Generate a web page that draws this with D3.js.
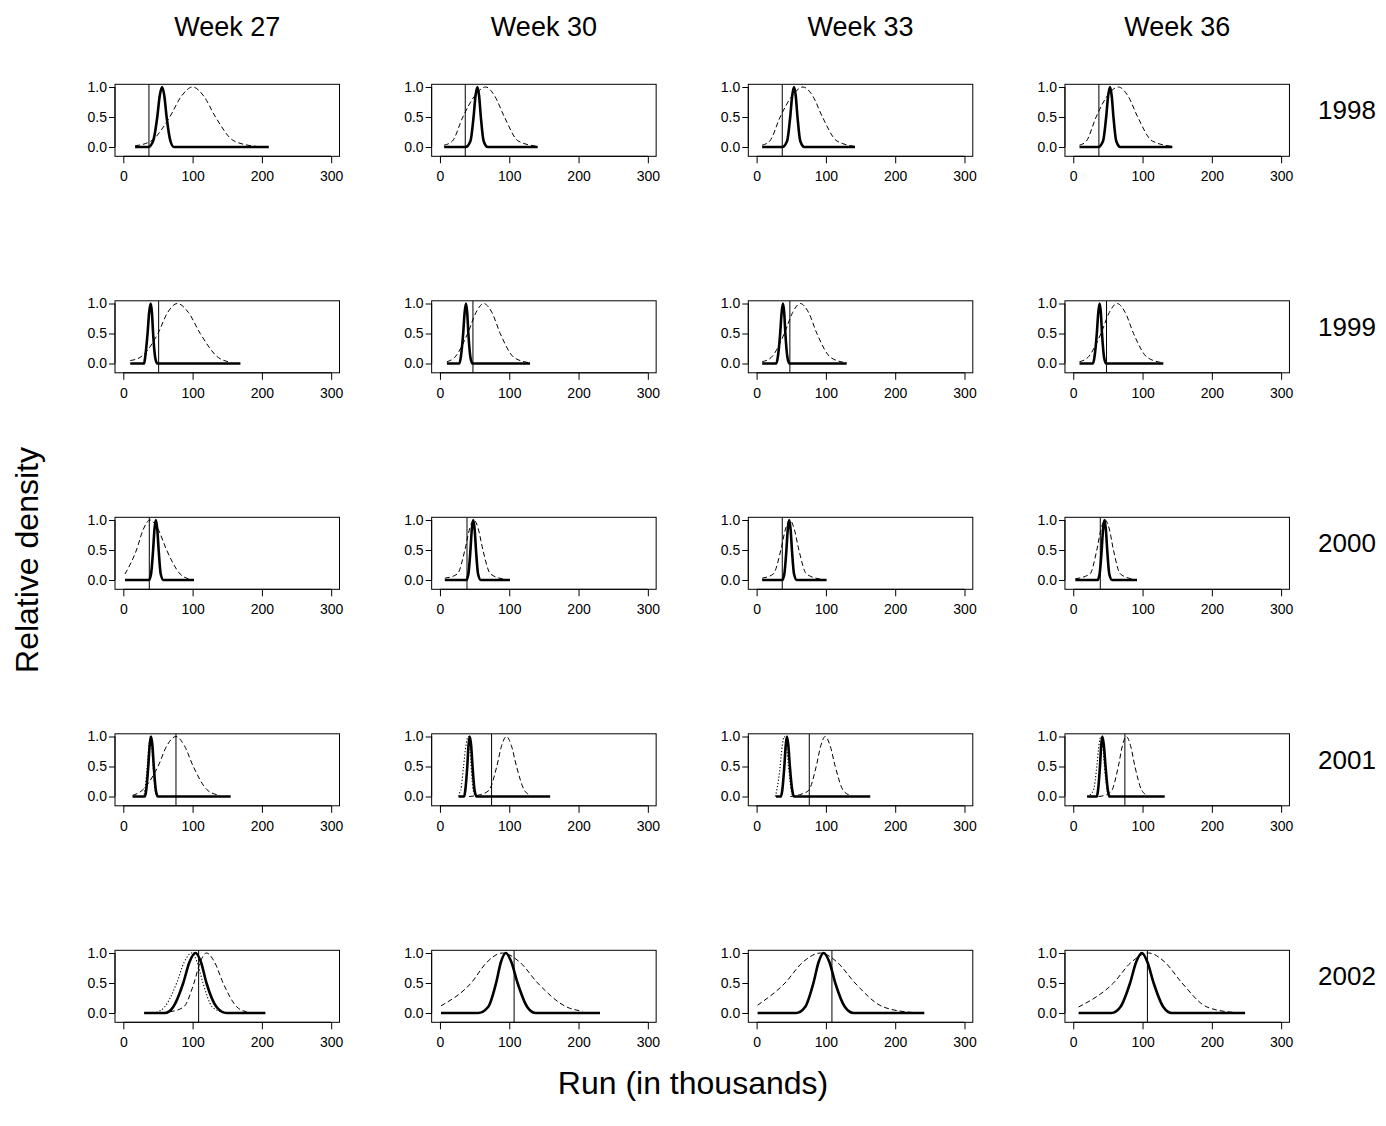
<!DOCTYPE html>
<html>
<head>
<meta charset="utf-8">
<script src="https://cdn.jsdelivr.net/npm/d3@7"></script>
<style>
  body { margin: 0; background: #fff; }
  svg text { font-family: "Liberation Sans", Arial, sans-serif; fill: #000; }
</style>
</head>
<body>
<script>
// Panel grid: rows are seasons, columns are forecast weeks
const weeks = ["Week 27", "Week 30", "Week 33", "Week 36"];
const years = ["1998", "1999", "2000", "2001", "2002"];
const xTicks = [0, 100, 200, 300];
const yTicks = [0, 0.5, 1];
const yTickLabels = ["0.0", "0.5", "1.0"];

// Observed run (thousands), drawn as the vertical line in each panel
const observedRun = [
  [37, 36.5, 37, 37],
  [51, 47.6, 48, 48],
  [37.5, 39, 37, 39],
  [76, 74.5, 76, 74.5],
  [108.7, 107, 108.7, 107]
];

// Dashed curves: relative density, [run, density] pairs per panel
const dashedCurves = [
  [
    [[17,0.02],[40,0.1],[67,0.5],[84,0.85],[100,1],[116,0.85],[133,0.5],[160,0.1],[192,0.01]],
    [[6,0.03],[18,0.1],[33,0.5],[50,0.85],[66,1],[79,0.85],[93,0.5],[113,0.1],[141,0.01]],
    [[8,0.03],[19,0.1],[34,0.5],[51,0.85],[67,1],[81,0.85],[95,0.5],[116,0.1],[142,0.01]],
    [[9,0.03],[19,0.1],[33,0.5],[49,0.85],[65,1],[79,0.85],[93,0.5],[114,0.1],[143,0.01]]
  ],
  [
    [[10,0.05],[24,0.1],[50,0.5],[64,0.85],[78,1],[94,0.85],[111,0.5],[137,0.1],[151,0.03]],
    [[10,0.03],[21,0.1],[40,0.5],[52,0.85],[63,1],[75,0.85],[87,0.5],[107,0.1],[130,0.01]],
    [[8,0.03],[21,0.1],[40,0.5],[52,0.85],[63,1],[75,0.85],[87,0.5],[107,0.1],[130,0.01]],
    [[9,0.03],[21,0.1],[40,0.5],[52,0.85],[63,1],[75,0.85],[87,0.5],[107,0.1],[130,0.01]]
  ],
  [
    [[2.4,0.1],[19,0.5],[29,0.85],[38.5,1],[50,0.85],[62.5,0.5],[82,0.1],[94,0.02]],
    [[7,0.03],[25,0.1],[36,0.5],[42.7,0.85],[49,1],[55.3,0.85],[62,0.5],[73,0.1],[94,0.01]],
    [[8,0.03],[24,0.1],[35,0.5],[41.7,0.85],[48,1],[54.3,0.85],[61,0.5],[72,0.1],[94,0.01]],
    [[3,0.02],[24,0.1],[34,0.5],[40,0.85],[46,1],[52,0.85],[58,0.5],[68,0.1],[88,0.01]]
  ],
  [
    [[13.5,0.02],[27,0.1],[50,0.5],[63,0.85],[76,1],[88,0.85],[101,0.5],[122,0.1],[139,0.02]],
    [[42,0],[58,0.03],[70.5,0.1],[82,0.5],[89,0.85],[96,1],[103,0.85],[110.5,0.5],[122,0.1],[131,0.02]],
    [[48.5,0],[62,0.03],[75,0.1],[86,0.5],[92.7,0.85],[99,1],[106,0.85],[113.5,0.5],[125,0.1],[135,0.02]],
    [[36.5,0],[48,0.03],[55.6,0.1],[65,0.5],[71,0.85],[76.5,1],[82.6,0.85],[89,0.5],[99,0.1],[108.6,0.01]]
  ],
  [
    [[67,0.02],[87,0.1],[102,0.5],[111,0.85],[120,1],[131.6,0.85],[144,0.5],[164,0.1],[178,0.02]],
    [[1.5,0.12],[45,0.5],[68,0.85],[90,1],[115,0.85],[141,0.5],[183,0.1],[206,0.03]],
    [[1.4,0.13],[41,0.5],[67,0.85],[92,1],[116,0.85],[142,0.5],[183,0.1],[224,0.01]],
    [[7.7,0.1],[58,0.5],[84,0.85],[108.6,1],[132,0.85],[157,0.5],[193,0.1],[231,0.01]]
  ]
];

// Thick solid curves
const solidCurves = [
  [
    [[17,0],[36,0],[43,0.1],[49,0.5],[52.5,0.85],[56,1],[59.2,0.85],[62.5,0.5],[68,0.1],[73,0],[210,0]],
    [[6,0],[37,0],[44,0.1],[48.5,0.5],[51.3,0.85],[54,1],[56.5,0.85],[59,0.5],[63,0.1],[69,0],[141,0]],
    [[8,0],[37,0],[44,0.1],[48.5,0.5],[51.3,0.85],[54,1],[56.5,0.85],[59,0.5],[63,0.1],[69,0],[142,0]],
    [[9,0],[36,0],[43,0.1],[47.5,0.5],[50.3,0.85],[53,1],[55.5,0.85],[58,0.5],[62,0.1],[68,0],[143,0]]
  ],
  [
    [[10,0],[30,0],[31.5,0.1],[35,0.5],[37.3,0.85],[39.5,1],[41.3,0.85],[43,0.5],[46,0.1],[49,0],[169,0]],
    [[10,0],[28,0],[30,0.1],[33.5,0.5],[35.6,0.85],[37.5,1],[39.3,0.85],[41,0.5],[44,0.1],[47,0],[130,0]],
    [[8,0],[28.5,0],[30.5,0.1],[34,0.5],[36.1,0.85],[38,1],[39.8,0.85],[41.5,0.5],[44.5,0.1],[47.5,0],[130,0]],
    [[9,0],[28.5,0],[30.5,0.1],[34,0.5],[36.1,0.85],[38,1],[39.8,0.85],[41.5,0.5],[44.5,0.1],[47.5,0],[130,0]]
  ],
  [
    [[2.4,0],[37,0],[40,0.1],[43,0.5],[45,0.85],[47,1],[49,0.85],[51,0.5],[54,0.1],[58,0],[102,0]],
    [[7,0],[38,0],[41,0.1],[44,0.5],[46,0.85],[48,1],[50,0.85],[52,0.5],[55,0.1],[59,0],[101,0]],
    [[8,0],[37,0],[40,0.1],[43,0.5],[45,0.85],[47,1],[49,0.85],[51,0.5],[54,0.1],[58,0],[101,0]],
    [[3,0],[35,0],[38,0.1],[41,0.5],[43,0.85],[45,1],[47,0.85],[49,0.5],[52,0.1],[56,0],[92,0]]
  ],
  [
    [[13.5,0],[31,0],[33,0.1],[36,0.5],[38,0.85],[40,1],[42,0.85],[44,0.5],[47,0.1],[50,0],[155,0]],
    [[27,0],[35,0],[36.5,0.1],[39.4,0.5],[41.2,0.85],[43,1],[45,0.85],[47,0.5],[50,0.1],[53,0],[159,0]],
    [[28,0],[35,0],[37,0.1],[40,0.5],[42,0.85],[43.8,1],[45.8,0.85],[48,0.5],[51.5,0.1],[54,0],[164,0]],
    [[20,0],[34,0],[35.7,0.1],[38.5,0.5],[40.3,0.85],[42,1],[44.2,0.85],[46.6,0.5],[50,0.1],[52,0],[132,0]]
  ],
  [
    [[30,0],[60,0],[72,0.1],[86.5,0.5],[95.5,0.85],[104,1],[112,0.85],[120,0.5],[134.6,0.1],[149,0],[205,0]],
    [[1.5,0],[55,0],[69.5,0.1],[81,0.5],[88,0.85],[95,1],[103,0.85],[112,0.5],[126,0.1],[138,0],[231,0]],
    [[1.4,0],[57,0],[70,0.1],[82,0.5],[89.5,0.85],[96.6,1],[105,0.85],[113.5,0.5],[127.5,0.1],[140,0],[242,0]],
    [[7.7,0],[55,0],[68,0.1],[82,0.5],[90.8,0.85],[99,1],[107,0.85],[116,0.5],[130,0.1],[142,0],[248,0]]
  ]
];

// Dotted curves (null where the dotted curve lies under the solid one)
const dottedCurves = [
  [null, null, null, null],
  [null, null, null, null],
  [null, null, null, null],
  [
    [[13.5,0],[29,0],[31,0.1],[34.5,0.5],[37,0.85],[39,1],[41,0.85],[43,0.5],[46,0.1],[49,0],[55,0]],
    [[27,0],[28,0.05],[30,0.1],[34,0.5],[37.5,0.85],[41,1],[43,0.85],[45,0.5],[48,0.1],[52,0]],
    [[27,0],[29,0.1],[34,0.5],[37,0.85],[40,1],[43,0.85],[46,0.5],[50,0.1],[53,0]],
    [[20,0],[29,0.1],[34,0.5],[37,0.85],[40,1],[42.5,0.85],[45,0.5],[49,0.1],[52,0]]
  ],
  [
    [[48,0.01],[59.6,0.1],[77,0.5],[88,0.85],[98.6,1],[106.5,0.85],[115,0.5],[128.5,0.1],[145,0.01]],
    null, null, null
  ]
];

const W = 1386, H = 1126;
const svg = d3.select("body").append("svg")
  .attr("width", W).attr("height", H)
  .style("background", "#fff");

// panel geometry
const colLeft = c => 115 + c * 316.65;
const frameW = 224.5;
const rowBase = r => 147 + r * 216.5;
const xDomain = [-12, 312];
const yDomain = [-0.155, 1.045];

const line = (x, y) => d3.line()
  .x(d => x(d[0])).y(d => y(d[1]))
  .curve(d3.curveMonotoneX);

years.forEach((yr, r) => {
  weeks.forEach((wk, c) => {
    const L = colLeft(c);
    const base = rowBase(r);
    const x = d3.scaleLinear().domain(xDomain).range([L, L + frameW]);
    const y = d3.scaleLinear().domain(yDomain).range([base + 9.3, base - 62.7]);
    const g = svg.append("g");
    const clipId = `clip-${r}-${c}`;
    g.append("clipPath").attr("id", clipId)
      .append("rect")
      .attr("x", x(xDomain[0])).attr("y", y(yDomain[1]))
      .attr("width", x(xDomain[1]) - x(xDomain[0]))
      .attr("height", y(yDomain[0]) - y(yDomain[1]));

    const plot = g.append("g").attr("clip-path", `url(#${clipId})`);
    const ln = line(x, y);

    plot.append("path").datum(dashedCurves[r][c])
      .attr("d", ln).attr("fill", "none").attr("stroke", "#000")
      .attr("stroke-width", 1).attr("stroke-dasharray", "5,3");

    if (dottedCurves[r][c]) {
      plot.append("path").datum(dottedCurves[r][c])
        .attr("d", ln).attr("fill", "none").attr("stroke", "#000")
        .attr("stroke-width", 1.1).attr("stroke-dasharray", "1.2,2");
    }

    plot.append("path").datum(solidCurves[r][c])
      .attr("d", ln).attr("fill", "none").attr("stroke", "#000")
      .attr("stroke-width", 2.6).attr("stroke-linejoin", "round");

    plot.append("line")
      .attr("x1", x(observedRun[r][c])).attr("x2", x(observedRun[r][c]))
      .attr("y1", y(yDomain[0])).attr("y2", y(yDomain[1]))
      .attr("stroke", "#000").attr("stroke-width", 1);

    // frame
    g.append("rect")
      .attr("x", x(xDomain[0])).attr("y", y(yDomain[1]))
      .attr("width", x(xDomain[1]) - x(xDomain[0]))
      .attr("height", y(yDomain[0]) - y(yDomain[1]))
      .attr("fill", "none").attr("stroke", "#000").attr("stroke-width", 1);

    // x axis
    const xa = g.append("g")
      .attr("transform", `translate(0,${y(yDomain[0])})`)
      .call(d3.axisBottom(x).tickValues(xTicks).tickSize(7).tickPadding(8));
    xa.select(".domain").remove();
    xa.append("line").attr("x1", x(xTicks[0])).attr("x2", x(xTicks[xTicks.length - 1]))
      .attr("stroke", "#000");
    xa.selectAll("text").style("font-size", "14px").attr("fill", "#000")
      .style("font-family", "Liberation Sans, Arial, sans-serif");

    // y axis
    const ya = g.append("g")
      .attr("transform", `translate(${x(xDomain[0])},0)`)
      .call(d3.axisLeft(y).tickValues(yTicks).tickSize(6).tickPadding(2)
        .tickFormat((d, i) => yTickLabels[i]));
    ya.select(".domain").remove();
    ya.append("line").attr("y1", y(yTicks[0])).attr("y2", y(yTicks[yTicks.length - 1]))
      .attr("stroke", "#000");
    ya.selectAll("text").style("font-size", "14px").attr("fill", "#000")
      .style("font-family", "Liberation Sans, Arial, sans-serif");
  });
});

function label(x, y, txt, size, rotate) {
  svg.append("text")
    .attr("transform", `translate(${x},${y})${rotate ? " rotate(-90)" : ""}`)
    .attr("text-anchor", "middle").attr("dominant-baseline", "central")
    .style("font-size", size + "px").text(txt);
}

// column titles
weeks.forEach((wk, c) => label(colLeft(c) + frameW / 2, 27, wk, 27));

// row labels
years.forEach((yr, r) => label(1347, rowBase(r) - 37, yr, 26));

// axis titles
label(27, 560, "Relative density", 32, true);
label(693, 1083, "Run (in thousands)", 32);
</script>
</body>
</html>
